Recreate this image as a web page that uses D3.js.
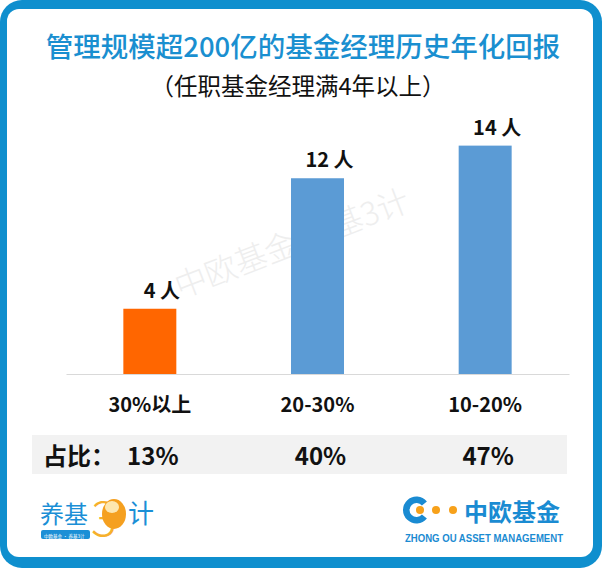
<!DOCTYPE html>
<html><head><meta charset="utf-8">
<script src="https://cdn.jsdelivr.net/npm/d3@7"></script>
<style>html,body{margin:0;padding:0;background:#fff;}svg{display:block;}</style>
</head><body>
<script>
const categories = ["30%以上", "20-30%", "10-20%"];
const counts = [4, 12, 14];
const countLabels = ["4 人", "12 人", "14 人"];
const shares = ["13%", "40%", "47%"];
const barColors = ["#ff6600", "#5b9bd5", "#5b9bd5"];
const yMax = 16;

const W = 602, H = 568;
const FONT = "'Noto Sans CJK SC', 'Noto Sans', sans-serif";
const svg = d3.select("body").append("svg").attr("width", W).attr("height", H)
  .style("font-family", FONT);

// frame
svg.append("rect").attr("x", 0).attr("y", 0).attr("width", W).attr("height", H).attr("rx", 22).attr("fill", "#0f8fce");
svg.append("rect").attr("x", 7).attr("y", 9).attr("width", 586).attr("height", 548).attr("rx", 12).attr("fill", "#fff");

// watermark
svg.append("text").attr("transform", "translate(296,254) rotate(-21)")
  .attr("text-anchor", "middle").attr("font-size", 32).attr("font-weight", 300)
  .attr("fill", "#eeeeee").text("中欧基金 养基3计");

// title
svg.append("text").attr("x", 303).attr("y", 57).attr("text-anchor", "middle")
  .attr("font-size", 27.5).attr("font-weight", 500).attr("fill", "#1a8fd0").text("管理规模超200亿的基金经理历史年化回报");
svg.append("text").attr("x", 298).attr("y", 95).attr("text-anchor", "middle")
  .attr("font-size", 23.5).attr("fill", "#111").text("（任职基金经理满4年以上）");

// scales
const x = d3.scaleBand().domain(categories).range([66, 569]).paddingInner(0.684).paddingOuter(0.342);
const y = d3.scaleLinear().domain([0, yMax]).range([374, 113]);

const data = categories.map((c, i) => ({ c, v: counts[i], lab: countLabels[i], share: shares[i], col: barColors[i] }));

// axis baseline
const xAxis = d3.axisBottom(x).tickSize(0).tickPadding(24);
const ax = svg.append("g").attr("transform", `translate(0,${y(0)})`).call(xAxis);
ax.select(".domain").attr("stroke", "#d9d9d9").attr("stroke-width", 1.2);
ax.selectAll("text").attr("font-family", FONT).attr("font-size", 20).attr("font-weight", "bold").attr("fill", "#111");

// bars
svg.selectAll("rect.bar").data(data).enter().append("rect").attr("class", "bar")
  .attr("x", d => x(d.c)).attr("y", d => y(d.v)).attr("width", x.bandwidth()).attr("height", d => y(0) - y(d.v))
  .attr("fill", d => d.col);

// value labels
svg.selectAll("text.vl").data(data).enter().append("text").attr("class", "vl")
  .attr("x", d => x(d.c) + x.bandwidth() / 2 + 12).attr("y", d => y(d.v) - 11)
  .attr("text-anchor", "middle").attr("font-size", 20).attr("font-weight", "bold").attr("fill", "#111")
  .text(d => d.lab);

// share row
svg.append("rect").attr("x", 32).attr("y", 435).attr("width", 535).attr("height", 39).attr("fill", "#f2f2f2");
svg.append("text").attr("x", 43).attr("y", 465).attr("font-size", 24).attr("font-weight", "bold").attr("fill", "#111").text("占比：");
svg.selectAll("text.sh").data(data).enter().append("text").attr("class", "sh")
  .attr("x", d => x(d.c) + x.bandwidth() / 2 + 3).attr("y", 465)
  .attr("text-anchor", "middle").attr("font-size", 24).attr("font-weight", "bold").attr("fill", "#111")
  .text(d => d.share);

// left logo
const L = svg.append("g");
L.append("text").attr("x", 40).attr("y", 523).attr("font-size", 24).attr("fill", "#1b8fd6").text("养基");
L.append("text").attr("x", 91).attr("y", 536).attr("font-size", 48).attr("font-weight", 300).attr("fill", "#f6b02c").text("3");
L.append("ellipse").attr("cx", 114).attr("cy", 514).attr("rx", 12).attr("ry", 15).attr("fill", "#f5a020");
L.append("ellipse").attr("cx", 112).attr("cy", 507).attr("rx", 7).attr("ry", 6).attr("fill", "#fde7b0");
L.append("text").attr("x", 128).attr("y", 523).attr("font-size", 26).attr("fill", "#1b8fd6").text("计");
L.append("rect").attr("x", 41).attr("y", 530).attr("width", 49).attr("height", 9).attr("rx", 2).attr("fill", "#1b8fd6");
L.append("text").attr("x", 44).attr("y", 537.5).attr("font-size", 4.5).attr("fill", "#fff").text("中欧基金 · 养基3计");

// right logo
const R = svg.append("g");
const arc = d3.arc().innerRadius(7).outerRadius(13.5).startAngle(Math.PI * 0.72).endAngle(Math.PI * 2.28);
R.append("path").attr("transform", "translate(416.5,510)").attr("d", arc).attr("fill", "#1a8bd2");
R.append("circle").attr("cx", 420).attr("cy", 510).attr("r", 4).attr("fill", "#f7a11a");
R.append("circle").attr("cx", 436).attr("cy", 510).attr("r", 4).attr("fill", "#f7a11a");
R.append("circle").attr("cx", 453).attr("cy", 510).attr("r", 4).attr("fill", "#f7a11a");
R.append("text").attr("x", 464).attr("y", 521).attr("font-size", 24).attr("font-weight", "bold").attr("fill", "#1a8bd2").text("中欧基金");
R.append("text").attr("x", 405).attr("y", 542).attr("font-size", 11.5).attr("font-weight", "bold")
  .attr("font-family", "'Liberation Sans', Arial, sans-serif")
  .attr("textLength", 158).attr("lengthAdjust", "spacingAndGlyphs").attr("fill", "#1a8bd2").text("ZHONG OU ASSET MANAGEMENT");
</script>
</body></html>
